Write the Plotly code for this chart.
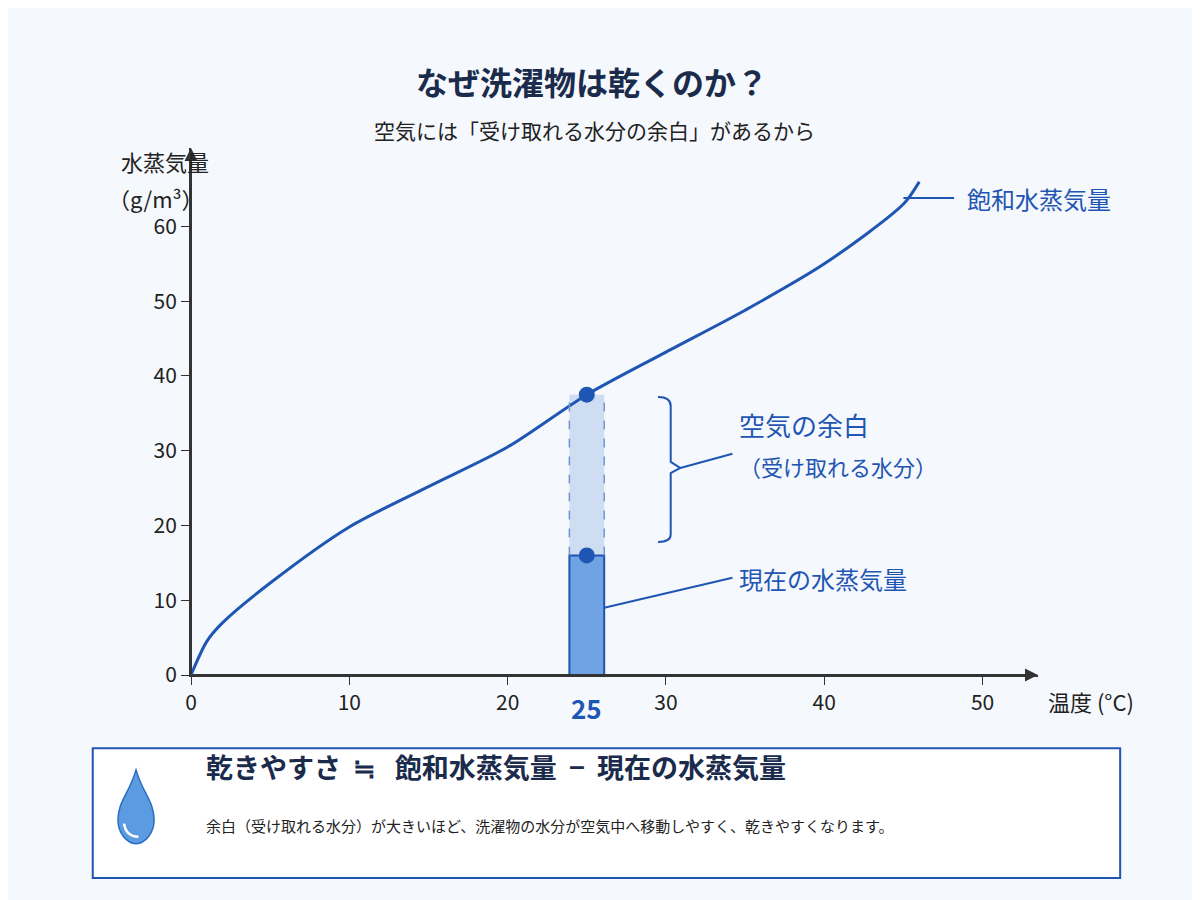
import plotly.graph_objects as go

# saturation curve
temps = [0, 1, 2, 5, 10, 15, 20, 25, 30, 35, 40, 45, 46]
sat = [0, 4.5, 7, 12.3, 19.8, 25.2, 30.5, 37.5, 43.2, 48.8, 55, 63, 66]
t_now = 25
sat_now = 37.5
vap_now = 16
xticks = [0, 10, 20, 30, 40, 50]
yticks = [0, 10, 20, 30, 40, 50, 60]

blue = "#1f56b3"
navy = "#1a2b4c"
font = "Noto Sans CJK JP"

fig = go.Figure()
# margin band
fig.add_trace(go.Bar(x=[t_now], y=[sat_now - vap_now], base=[vap_now], width=2.2,
                     marker=dict(color="rgba(120,160,220,0.3)", line=dict(width=0)),
                     hoverinfo="skip"))
# current vapour bar
fig.add_trace(go.Bar(x=[t_now], y=[vap_now], width=2.2,
                     marker=dict(color="#6fa3e3", line=dict(color=blue, width=2)),
                     hoverinfo="skip"))
fig.add_trace(go.Scatter(x=temps, y=sat, mode="lines", line=dict(color=blue, width=3, shape="spline", smoothing=0.8),
                         hoverinfo="skip"))
fig.add_trace(go.Scatter(x=[t_now, t_now], y=[sat_now, vap_now], mode="markers",
                         marker=dict(color=blue, size=16), hoverinfo="skip"))

# dashed edges of band
for dx in (-1.1, 1.1):
    fig.add_shape(type="line", x0=t_now + dx, x1=t_now + dx, y0=vap_now, y1=sat_now,
                  line=dict(color="#6f96d0", width=1.5, dash="dash"))
# bracket
fig.add_shape(type="path", path="M 29.5 37.2 Q 30.3 37.2 30.3 36 L 30.3 28.5 L 30.9 27.7 L 30.3 27 L 30.3 18.8 Q 30.3 17.8 29.5 17.8",
              line=dict(color=blue, width=2))
# leader lines
fig.add_shape(type="line", x0=30.9, y0=27.7, x1=34.2, y1=29.6, line=dict(color=blue, width=2))
fig.add_shape(type="line", x0=26.1, y0=9, x1=34.2, y1=13, line=dict(color=blue, width=2))
fig.add_shape(type="line", x0=45, y0=63.8, x1=48.2, y1=63.8, line=dict(color=blue, width=2))

ann = [
    dict(x=48.9, y=63.8, text="飽和水蒸気量", xanchor="left", font=dict(size=24, color=blue)),
    dict(x=34.5, y=33.5, text="空気の余白", xanchor="left", font=dict(size=26, color=blue)),
    dict(x=34.5, y=28.0, text="（受け取れる水分）", xanchor="left", font=dict(size=22, color=blue)),
    dict(x=34.5, y=12.9, text="現在の水蒸気量", xanchor="left", font=dict(size=24, color=blue)),
    dict(x=t_now, y=0, yshift=-32, text="<b>25</b>", font=dict(size=26, color=blue)),
]
for a in ann:
    fig.add_annotation(showarrow=False, **a)

# axis arrows
fig.add_annotation(x=53.5, y=0, ax=0, ay=0, xref="x", yref="y", axref="x", ayref="y",
                   showarrow=True, arrowhead=2, arrowsize=1.3, arrowwidth=2, arrowcolor="#333", text="")
fig.add_annotation(x=0, y=70.5, ax=0, ay=0, xref="x", yref="y", axref="x", ayref="y",
                   showarrow=True, arrowhead=2, arrowsize=1.3, arrowwidth=2, arrowcolor="#333", text="")

# paper-level texts
paper = [
    dict(x=0.5, y=1.0, yshift=92, text="<b>なぜ洗濯物は乾くのか？</b>", font=dict(size=32, color=navy), xshift=-23),
    dict(x=0.5, y=1.0, yshift=35, xshift=-20, text="空気には「受け取れる水分の余白」があるから", font=dict(size=21, color="#222")),
    dict(x=-0.085, y=1.0, yshift=5, text="水蒸気量", font=dict(size=22, color="#222")),
    dict(x=-0.10, y=1.0, yshift=-32, text="（g/m³）", font=dict(size=22, color="#222")),
    dict(x=1.01, y=0, yshift=-44, xanchor="left", text="温度 (°C)", font=dict(size=22, color="#222")),
    dict(x=0.015, y=-0.215, xanchor="left", text="<b>乾きやすさ  ≒   飽和水蒸気量  −  現在の水蒸気量</b>",
         font=dict(size=27, color=navy)),
    dict(x=0.015, y=-0.31, xanchor="left",
         text="余白（受け取れる水分）が大きいほど、洗濯物の水分が空気中へ移動しやすく、乾きやすくなります。",
         font=dict(size=15, color="#222")),
]
for a in paper:
    fig.add_annotation(xref="paper", yref="paper", showarrow=False, **a)

# info box
fig.add_shape(type="rect", xref="paper", yref="paper", x0=-0.116, x1=1.097, y0=-0.385, y1=-0.139,
              line=dict(color=blue, width=2), fillcolor="white", layer="below")
# water drop
fig.add_shape(type="path", xref="paper", yref="paper",
              path="M -0.0649 -0.180 C -0.073 -0.225 -0.0862 -0.240 -0.0862 -0.275 "
                   "C -0.0862 -0.300 -0.0755 -0.320 -0.0649 -0.320 "
                   "C -0.0543 -0.320 -0.0436 -0.300 -0.0436 -0.275 "
                   "C -0.0436 -0.240 -0.0568 -0.225 -0.0649 -0.180 Z",
              fillcolor="#5b9be0", line=dict(color="#2d6cc0", width=1.5))
fig.add_shape(type="path", xref="paper", yref="paper",
              path="M -0.079 -0.282 Q -0.077 -0.306 -0.062 -0.307",
              line=dict(color="white", width=2.5))

fig.update_layout(
    width=1200, height=900, showlegend=False, barmode="overlay",
    plot_bgcolor="#f5f8fc", paper_bgcolor="#f5f8fc",
    margin=dict(l=183, r=170, t=140, b=233),
    font=dict(family=font, color="#222"),
)
fig.update_xaxes(range=[0, 53.5], tickvals=xticks, showgrid=False, zeroline=False,
                 showline=True, linecolor="#333", linewidth=2, ticks="outside", ticklen=8,
                 tickcolor="#333", tickfont=dict(size=21))
fig.update_yaxes(range=[0, 70.5], tickvals=yticks, showgrid=False, zeroline=False,
                 showline=True, linecolor="#333", linewidth=2, ticks="outside", ticklen=8,
                 tickcolor="#333", tickfont=dict(size=21))

fig.write_html("out.html")
